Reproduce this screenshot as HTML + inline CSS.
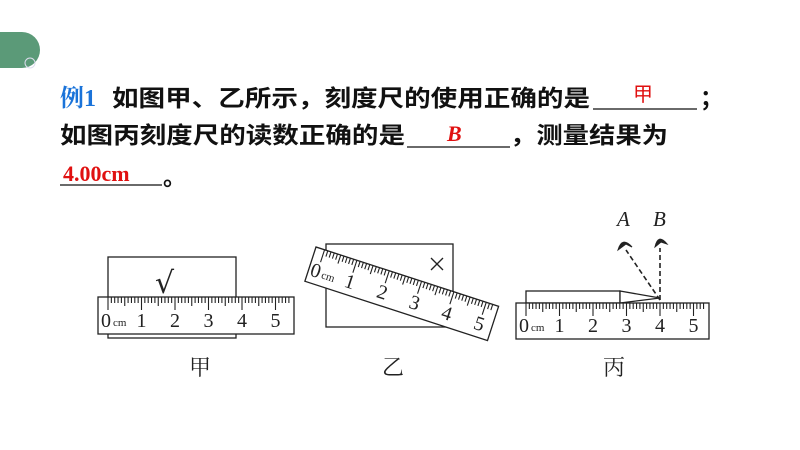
<!DOCTYPE html>
<html><head><meta charset="utf-8"><style>
body{margin:0;background:#fff;}
svg{display:block;}
</style></head><body>
<svg id="s" width="800" height="450" viewBox="0 0 800 450" xmlns="http://www.w3.org/2000/svg" font-family="Liberation Serif, 'Noto Serif CJK SC', serif">
<path d="M0 32 H22 A18 18 0 0 1 40 50 A18 18 0 0 1 22 68 H0 Z" fill="#5b9a78"/>
<circle cx="30" cy="63" r="5" fill="none" stroke="#dde" stroke-width="1"/>
<g font-family="'Liberation Sans','Noto Sans CJK SC',sans-serif" font-weight="bold" font-size="23" fill="#111">
<text x="60" y="106" fill="#1a73d9" font-family="'Liberation Serif','Noto Serif CJK SC',serif" font-size="24">例1</text>
<text x="112" y="106" textLength="478" lengthAdjust="spacingAndGlyphs">如图甲、乙所示，刻度尺的使用正确的是</text>
<text x="700" y="106">；</text>
<text x="60" y="143" textLength="345" lengthAdjust="spacingAndGlyphs">如图丙刻度尺的读数正确的是</text>
<text x="510" y="143" textLength="158" lengthAdjust="spacingAndGlyphs">，测量结果为</text>
<text x="163" y="185">。</text>
</g>
<g stroke="#111" stroke-width="1.2">
<line x1="593" y1="109" x2="697" y2="109"/>
<line x1="407" y1="147" x2="510" y2="147"/>
<line x1="60" y1="185" x2="162" y2="185"/>
</g>
<text x="633" y="101" fill="#e01010" font-size="20" font-family="'Noto Sans CJK SC',sans-serif">甲</text>
<text x="447" y="141" fill="#e01010" font-size="22" font-weight="bold" font-style="italic">B</text>
<text x="63" y="181" fill="#e01010" font-size="22" font-weight="bold">4.00cm</text>

<g fill="none" stroke="#222" stroke-width="1.3">
<rect x="108" y="257" width="128" height="81" fill="#fff"/>
<rect x="326" y="244" width="127" height="83" fill="#fff"/>
<line x1="431" y1="258" x2="443" y2="270"/><line x1="443" y1="258" x2="431" y2="270"/>
</g>
<text x="155" y="293" font-size="30" fill="#222" font-family="'DejaVu Sans',sans-serif">√</text>
<g id="r1" transform="translate(98,297)"></g>
<g id="r2" transform="translate(316,247) rotate(18)"></g>
<g fill="#fff" stroke="#222" stroke-width="1.3">
<rect x="526" y="291" width="94" height="12"/>
<path d="M620 291 L660 298 L620 303 Z"/>
</g>
<g id="r3" transform="translate(516,303)"></g>
<g stroke="#222" stroke-width="1.6" stroke-dasharray="5,3" fill="none">
<line x1="660" y1="300" x2="626" y2="250"/>
<line x1="660" y1="300" x2="660" y2="248"/>
</g>
<g fill="#222" stroke="#222" stroke-width="1">
<path d="M618 250 Q622 236 632 247 L626 244 Z"/>
<path d="M655 247 Q658 233 667 244 L661 242 Z"/>
</g>
<g font-style="italic" font-size="21" fill="#222">
<text x="617" y="226">A</text><text x="653" y="226">B</text>
</g>
<g font-family="'Noto Serif CJK SC','Noto Sans CJK SC',serif" font-size="22" fill="#222">
<text x="189" y="375">甲</text><text x="382" y="375">乙</text><text x="603" y="375">丙</text>
</g>
</svg>
<script>
function ruler(id,w,h,x0,cm){
 var g=document.getElementById(id),s='';
 s+='<rect x="0" y="0" width="'+w+'" height="'+h+'" fill="#fff" stroke="#222" stroke-width="1.3"/>';
 for(var i=0;i<=57;i++){var x=x0+i*cm/10;if(x>w-3)break;var L=i%10==0?13:(i%5==0?9:6);
 s+='<line x1="'+x+'" y1="0" x2="'+x+'" y2="'+L+'" stroke="#222" stroke-width="1.1"/>';}
 s+='<text x="'+(x0-7)+'" y="'+(h-7)+'" font-size="20" fill="#222">0</text>';
 s+='<text x="'+(x0+5)+'" y="'+(h-8)+'" font-size="11" fill="#222">cm</text>';
 for(var k=1;k<=5;k++)s+='<text x="'+(x0+k*cm)+'" y="'+(h-7)+'" font-size="20" fill="#222" text-anchor="middle">'+k+'</text>';
 g.innerHTML=s;
}
ruler('r1',196,37,10,33.5);
ruler('r2',192,36,9,34);
ruler('r3',193,36,10,33.5);
</script>
</body></html>
